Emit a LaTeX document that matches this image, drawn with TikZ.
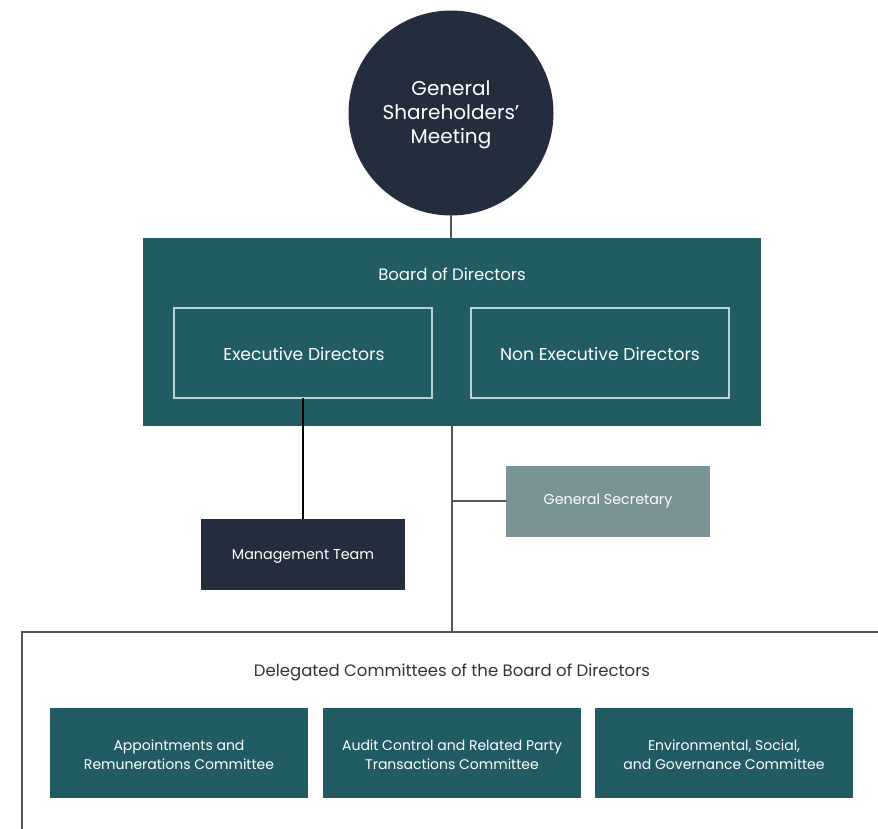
\documentclass[tikz,border=0pt]{standalone}
\usepackage{fontspec}
\setmainfont{Poppins}
\begin{document}
\begin{tikzpicture}[x=1pt,y=-1pt,
  inbox/.style={draw=lineteal,line width=1.2pt,fill=none},
  txt/.style={text=white,align=center,font=\fontsize{#1}{19}\selectfont},
  link/.style={draw=linegray,line width=1.3pt}]
\definecolor{navyc}{HTML}{232D3D}
\definecolor{tealc}{HTML}{215C63}
\definecolor{grayteal}{HTML}{7A9496}
\definecolor{lineteal}{HTML}{B5D3D2}
\definecolor{linegray}{HTML}{555555}
\useasboundingbox (0,0) rectangle (878,829);

% general meeting
\path[fill=navyc] (451,113) circle[radius=102.5];
\node[circle,minimum size=205pt,inner sep=0pt,text=white,align=center,
  font=\fontsize{20}{24}\selectfont] (gsm) at (451,115) {General\\Shareholders'\\Meeting};
\coordinate (gsmbot) at (451,215.5);

% board
\path[fill=tealc] (143,238) rectangle (761,426);
\node[txt=16.5] (bod) at (452,274) {Board of Directors};
\coordinate (boardtop) at (451,238);
\coordinate (boardbot) at (452,426);
\draw[inbox] (174,308) rectangle (432,398);
\draw[inbox] (471,308) rectangle (729,398);
\node[txt=17.2] (exec) at (304,354) {Executive Directors};
\node[txt=17.2] (nonexec) at (600,354) {Non Executive Directors};
\coordinate (execbot) at (303,398);

% management and secretary
\path[fill=navyc] (201,519) rectangle (405,590);
\node[txt=14.3] (mgmt) at (303,556) {Management Team};
\coordinate (mgmttop) at (303,519);
\path[fill=grayteal] (506,466) rectangle (710,537);
\node[txt=14.3] (sec) at (608,501.5) {General Secretary};
\coordinate (secleft) at (506,501);
\coordinate (branch) at (452,501);

% committees frame
\coordinate (frametop) at (452,632);
\draw[link] (22,835) -- (22,632) -- (880,632);
\node[text=black!80,font=\fontsize{16.5}{19}\selectfont] (dc) at (452,672) {Delegated Committees of the Board of Directors};
\path[fill=tealc] (50,708) rectangle (308,798);
\path[fill=tealc] (323,708) rectangle (581,798);
\path[fill=tealc] (595,708) rectangle (853,798);
\node[txt=14] (c1) at (179,755) {Appointments and\\Remunerations Committee};
\node[txt=14] (c2) at (452,755) {Audit Control and Related Party\\Transactions Committee};
\node[txt=14] (c3) at (724,755) {Environmental, Social,\\and Governance Committee};

% connectors
\draw[link] (gsmbot) -- (boardtop);
\draw[link] (boardbot) -- (frametop);
\draw[link] (branch) -- (secleft);
\draw[draw=black,line width=1.3pt] (execbot) -- (mgmttop);
\end{tikzpicture}
\end{document}
